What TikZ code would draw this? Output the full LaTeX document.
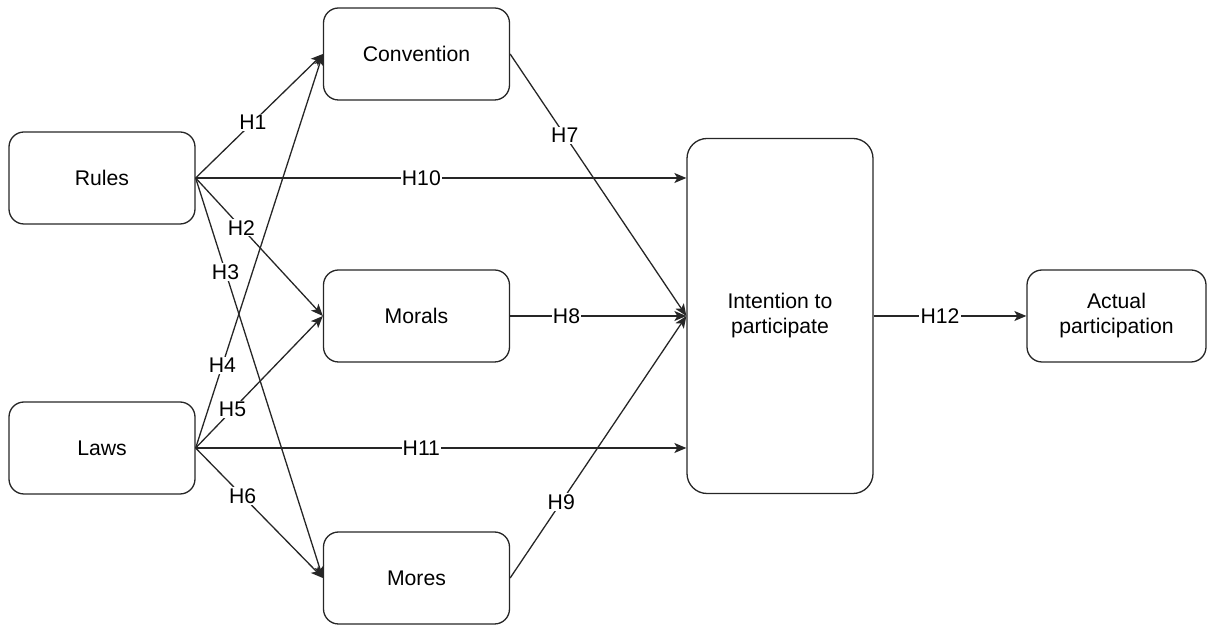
\documentclass[tikz,border=0pt]{standalone}
\usepackage{fontspec}
\setmainfont{Liberation Sans}
\usetikzlibrary{arrows.meta}
\begin{document}
\begin{tikzpicture}[x=0.5pt,y=-0.5pt,
  box/.style={draw=black!85, line width=0.65pt, rounded corners=7.5pt,
    minimum width=93pt, minimum height=46pt, align=center, inner sep=0pt,
    font=\fontsize{10.6}{12.5}\selectfont},
  link/.style={draw=black!85, line width=0.65pt,
    -{Stealth[length=6pt,width=5pt,inset=1.5pt]}},
  hyp/.style={fill=white, inner sep=0.6pt, font=\fontsize{10.6}{12.5}\selectfont}]
\useasboundingbox (0,0) rectangle (1207,625);

% constructs
\node[box] (rules)  at (102,178)   {Rules};
\node[box] (laws)   at (102,448)   {Laws};
\node[box] (conv)   at (416.5,54)  {Convention};
\node[box] (morals) at (416.5,316) {Morals};
\node[box] (mores)  at (416.5,578) {Mores};
\node[box, minimum height=177.5pt, rounded corners=10pt] (intent) at (780,316)
  {Intention to\\participate};
\node[box, minimum width=89.5pt] (actual) at (1116.5,316)
  {Actual\\participation};

% hypothesised paths
\draw[link] (rules.east) -- node[hyp,pos=0.45] {H1} (conv.west);
\draw[link] (rules.east) -- node[hyp,pos=0.36] {H2} (morals.west);
\draw[link] (rules.east) -- node[hyp,pos=0.235] {H3} (mores.west);
\draw[link] (laws.east)  -- node[hyp,pos=0.21] {H4} (conv.west);
\draw[link] (laws.east)  -- node[hyp,pos=0.29] {H5} (morals.west);
\draw[link] (laws.east)  -- node[hyp,pos=0.37] {H6} (mores.west);
\draw[link] (conv.east)   -- node[hyp,pos=0.31] {H7} (intent.west);
\draw[link] (morals.east) -- node[hyp,pos=0.32] {H8} (intent.west);
\draw[link] (mores.east)  -- node[hyp,pos=0.29] {H9} (intent.west);
\draw[link] (rules.east) -- node[hyp,pos=0.46] {H10} (intent.west |- rules.east);
\draw[link] (laws.east)  -- node[hyp,pos=0.46] {H11} (intent.west |- laws.east);
\draw[link] (intent.east) -- node[hyp,pos=0.435] {H12} (actual.west);
\end{tikzpicture}
\end{document}
